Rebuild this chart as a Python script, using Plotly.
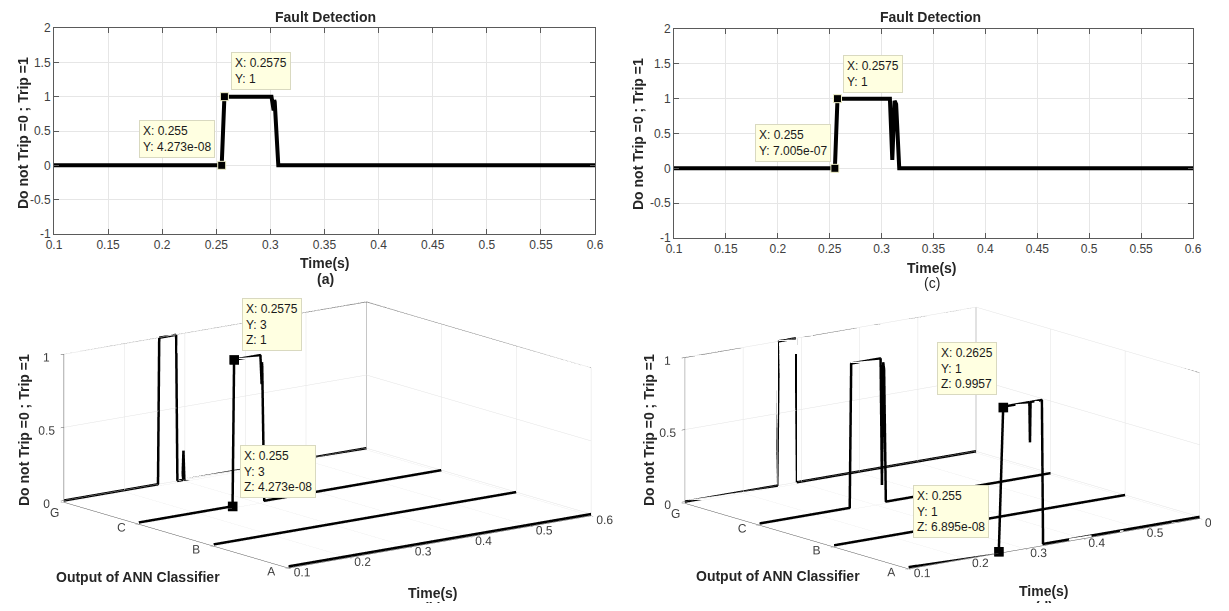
import plotly.graph_objects as go

# figure size; the page shows it at offset ~16px with a slight scale, mapped below
W, H = 1213, 595
FONT = "Liberation Sans, Arial, sans-serif"

# ---------------- data ----------------
# (a) 2-D trip signal (same as row C of (b))
time_a = [0.1, 0.255, 0.2575, 0.301, 0.302, 0.303, 0.3035, 0.304, 0.3073, 0.6]
trip_a = [0, 0, 1, 1, 0.9, 0.8, 0.95, 0.92, 0, 0]

# (c) 2-D trip signal (same as row C of (d))
time_c = [0.1, 0.255, 0.2575, 0.308, 0.3103, 0.3125, 0.314, 0.317, 0.6]
trip_c = [0, 0, 1, 1, 0.12, 0.97, 0.92, 0, 0]

# classifier outputs
class_labels = ["A", "B", "C", "G"]
class_index = [1, 2, 3, 4]

# (b) rows
b_G_time = [0.1, 0.2555, 0.2575, 0.2855, 0.2875, 0.296, 0.2975, 0.299, 0.6]
b_G_trip = [0, 0, 1, 1, 0, 0, 0.2, 0, 0]
b_C_time = time_a
b_C_trip = trip_a
b_B_time = [0.1, 0.6]
b_B_trip = [0, 0]
b_A_time = [0.1, 0.6]
b_A_trip = [0, 0]

# (d) rows
d_G_time = [0.1, 0.2585, 0.261, 0.2905, 0.2925, 0.6]
d_G_trip = [0, 0, 1, 1, 0, 0]
d_C_time = time_c
d_C_trip = trip_c
d_B_time = [0.1, 0.6]
d_B_trip = [0, 0]
d_A_time = [0.1, 0.255, 0.2625, 0.27, 0.3075, 0.3085, 0.3095, 0.329, 0.331, 0.6]
d_A_trip = [0, 0, 0.9957, 1, 1, 0.72, 1, 1, 0, 0]

# data tips
tips_a = [(0.2575, 1, "X: 0.2575<br>Y: 1"), (0.255, 4.273e-08, "X: 0.255<br>Y: 4.273e-08")]
tips_c = [(0.2575, 1, "X: 0.2575<br>Y: 1"), (0.255, 7.005e-07, "X: 0.255<br>Y: 7.005e-07")]
tips_b = [(0.2575, 3, 1, "X: 0.2575<br>Y: 3<br>Z: 1"),
          (0.255, 3, 4.273e-08, "X: 0.255<br>Y: 3<br>Z: 4.273e-08")]
tips_d = [(0.2625, 1, 0.9957, "X: 0.2625<br>Y: 1<br>Z: 0.9957"),
          (0.255, 1, 6.895e-08, "X: 0.255<br>Y: 1<br>Z: 6.895e-08")]

time_range = [0.1, 0.6]
trip_range = [-1, 2]
trip_range3d = [-0.012, 1]   # floor a hair below 0 so the traces are not hidden by floor grid lines
class_range = [1, 4]
time_ticks = [0.1, 0.15, 0.2, 0.25, 0.3, 0.35, 0.4, 0.45, 0.5, 0.55, 0.6]
time_ticks3d = [0.1, 0.2, 0.3, 0.4, 0.5, 0.6]
trip_ticks = [-1, -0.5, 0, 0.5, 1, 1.5, 2]
trip_ticks3d = [0, 0.5, 1]

# ---------------- figure ----------------
fig = go.Figure()
LW = 4
LW3 = 5
TIPBG = "#FFFFE1"
TIPBD = "#D9D9C0"
LBL = 14


def px_x(v):
    return (v - 16) / 1196


def px_y(v):
    return 1 - (v - 15) / 581


# 2-D traces
fig.add_trace(go.Scatter(x=time_a, y=trip_a, mode="lines", line=dict(color="black", width=LW),
                         xaxis="x", yaxis="y", showlegend=False, hoverinfo="skip"))
fig.add_trace(go.Scatter(x=[t[0] for t in tips_a], y=[t[1] for t in tips_a], mode="markers",
                         marker=dict(symbol="square", size=8, color="black", line=dict(color="#F0F0C8", width=1)),
                         xaxis="x", yaxis="y", showlegend=False, hoverinfo="skip"))
fig.add_trace(go.Scatter(x=time_c, y=trip_c, mode="lines", line=dict(color="black", width=LW),
                         xaxis="x2", yaxis="y2", showlegend=False, hoverinfo="skip"))
fig.add_trace(go.Scatter(x=[t[0] for t in tips_c], y=[t[1] for t in tips_c], mode="markers",
                         marker=dict(symbol="square", size=8, color="black", line=dict(color="#F0F0C8", width=1)),
                         xaxis="x2", yaxis="y2", showlegend=False, hoverinfo="skip"))

# 3-D box edges (back wall / right wall), built from the axis ranges
t0, t1 = time_range
c0, c1 = class_range
z0, z1 = trip_range3d
box_x = [t0, t1, t1, t1, None, t1, t1]
box_y = [c1, c1, c1, c0, None, c1, c0]
box_z = [z1, z1, z0, z0, None, z1, z1]

# 3-D traces
rows_b = [(b_A_time, b_A_trip, 1), (b_B_time, b_B_trip, 2), (b_C_time, b_C_trip, 3), (b_G_time, b_G_trip, 4)]
rows_d = [(d_G_time, d_G_trip, 4), (d_C_time, d_C_trip, 3), (d_B_time, d_B_trip, 2), (d_A_time, d_A_trip, 1)]
for scene, rows, tips in (("scene", rows_b, tips_b), ("scene2", rows_d, tips_d)):
    fig.add_trace(go.Scatter3d(x=box_x, y=box_y, z=box_z, mode="lines",
                               line=dict(color="#555555", width=1.5), scene=scene,
                               showlegend=False, hoverinfo="skip"))
    for tt, zz, yi in rows:
        fig.add_trace(go.Scatter3d(x=tt, y=[yi] * len(tt), z=zz, mode="lines",
                                   line=dict(color="black", width=LW3), scene=scene,
                                   showlegend=False, hoverinfo="skip"))
    fig.add_trace(go.Scatter3d(x=[t[0] for t in tips], y=[t[1] for t in tips], z=[t[2] for t in tips],
                               mode="markers", marker=dict(symbol="square", size=5, color="black"),
                               scene=scene, showlegend=False, hoverinfo="skip"))

axis_common = dict(showgrid=True, gridcolor="#E6E6E6", gridwidth=1, zeroline=False,
                   showline=True, linecolor="#5A5A5A", linewidth=1, mirror="ticks",
                   ticks="inside", ticklen=5, tickcolor="#5A5A5A",
                   tickfont=dict(family=FONT, size=12, color="#404040"))

fig.update_layout(
    width=W, height=H, margin=dict(l=0, r=0, t=0, b=0),
    paper_bgcolor="white", plot_bgcolor="white",
    font=dict(family=FONT, size=12, color="#262626"),
    hovermode=False,
    xaxis=dict(domain=[px_x(54), px_x(595)], range=time_range, tickvals=time_ticks,
               ticktext=[f"{v:g}" for v in time_ticks], anchor="y", **axis_common),
    yaxis=dict(domain=[px_y(234), px_y(28)], range=trip_range, tickvals=trip_ticks,
               ticktext=[f"{v:g}" for v in trip_ticks], anchor="x", **axis_common),
    xaxis2=dict(domain=[px_x(674), px_x(1193)], range=time_range, tickvals=time_ticks,
                ticktext=[f"{v:g}" for v in time_ticks], anchor="y2", **axis_common),
    yaxis2=dict(domain=[px_y(238), px_y(29)], range=trip_range, tickvals=trip_ticks,
                ticktext=[f"{v:g}" for v in trip_ticks], anchor="x2", **axis_common),
)

# view direction (azimuth ~232.5 deg, elevation ~13 deg)
EYE_DIR = (-0.593, -0.772, 0.225)
EYE_DIST = 2.0
RIGHT = (0.793, -0.609, 0.0)   # screen-right direction in scene units
UP = (0.137, 0.178, 0.974)     # screen-up direction in scene units
PPU = 160.0                    # screen px per scene unit

# the last class label ('G') shares its corner with the z '0' label, so it is
# placed as a scene annotation at its tick location, offset below-left
class_ticktext = [c if i < len(class_labels) - 1 else "" for i, c in enumerate(class_labels)]
corner_label = dict(x=time_range[0], y=class_index[-1], z=trip_ticks3d[0], text=class_labels[-1],
                    showarrow=False, xanchor="center", yanchor="middle", xshift=-9, yshift=-12,
                    font=dict(family=FONT, size=12, color="#404040"))


def scene_cfg(x0, x1, y0, y1, aspect, shift_right, shift_down):
    ax3 = dict(showbackground=False, gridcolor="#E3E3E3", gridwidth=1, zeroline=False,
               showline=True, linecolor="#555555", linewidth=1, ticks="outside", ticklen=4,
               tickcolor="#555555", showspikes=False, title=dict(text=""), tickangle=0,
               tickfont=dict(family=FONT, size=12, color="#404040"))
    kr = -shift_right / PPU
    ku = shift_down / PPU
    center = dict(x=kr * RIGHT[0] + ku * UP[0], y=kr * RIGHT[1] + ku * UP[1], z=ku * UP[2])
    eye = dict(x=EYE_DIR[0] * EYE_DIST + center["x"], y=EYE_DIR[1] * EYE_DIST + center["y"],
               z=EYE_DIR[2] * EYE_DIST + center["z"])
    return dict(
        domain=dict(x=[max(0, px_x(x0)), min(1, px_x(x1))], y=[max(0, px_y(y1)), min(1, px_y(y0))]),
        xaxis=dict(range=time_range, tickvals=time_ticks3d, ticktext=[f"{v:g}" for v in time_ticks3d], **ax3),
        yaxis=dict(range=class_range, tickvals=class_index, ticktext=class_ticktext, **ax3),
        zaxis=dict(range=trip_range3d, tickvals=trip_ticks3d, ticktext=[f"{v:g}" for v in trip_ticks3d], **ax3),
        aspectmode="manual", aspectratio=aspect,
        camera=dict(eye=eye, up=dict(x=0, y=0, z=1), center=center,
                    projection=dict(type="orthographic")),
        dragmode=False, bgcolor="rgba(0,0,0,0)",
    )


fig.update_layout(
    scene=scene_cfg(16, 639, 274, 596, dict(x=2.37, y=2.29, z=0.944), 0, 0),
    scene2=scene_cfg(570, 1212, 274, 596, dict(x=2.28, y=2.28, z=0.93), 51, 3),
)

ann = []


def text_ann(x, y, text, bold=True, angle=0, size=LBL):
    ann.append(dict(x=px_x(x), y=px_y(y), xref="paper", yref="paper", text=f"<b>{text}</b>" if bold else text,
                    showarrow=False, textangle=angle, xanchor="center", yanchor="middle",
                    font=dict(family=FONT, size=size, color="#262626")))


text_ann(325, 17, "Fault Detection")
text_ann(930, 17, "Fault Detection")
text_ann(325, 263, "Time(s)")
text_ann(325, 279, "(a)")
text_ann(932, 268, "Time(s)")
text_ann(932, 283, "(c)", bold=False)
text_ann(23, 133, "Do not Trip =0 ; Trip =1", angle=-90)
text_ann(638, 134, "Do not Trip =0 ; Trip =1", angle=-90)
text_ann(24, 430, "Do not Trip =0 ; Trip =1", angle=-90)
text_ann(649, 430, "Do not Trip =0 ; Trip =1", angle=-90)
text_ann(138, 577, "Output of ANN Classifier")
text_ann(778, 576, "Output of ANN Classifier")
text_ann(433, 593, "Time(s)")
text_ann(433, 608, "(b)")
text_ann(1044, 591, "Time(s)")
text_ann(1044, 607, "(d)")

tip_style = dict(showarrow=False, bgcolor=TIPBG, bordercolor=TIPBD, borderwidth=1, borderpad=3,
                 align="left", font=dict(family=FONT, size=12, color="#1a1a1a"))
# 2-D data tips
ann.append(dict(x=tips_a[0][0], y=tips_a[0][1], xref="x", yref="y", text=tips_a[0][2],
                xanchor="left", yanchor="bottom", xshift=7, yshift=7, **tip_style))
ann.append(dict(x=tips_a[1][0], y=tips_a[1][1], xref="x", yref="y", text=tips_a[1][2],
                xanchor="right", yanchor="bottom", xshift=-7, yshift=7, **tip_style))
ann.append(dict(x=tips_c[0][0], y=tips_c[0][1], xref="x2", yref="y2", text=tips_c[0][2],
                xanchor="left", yanchor="bottom", xshift=6, yshift=6, **tip_style))
ann.append(dict(x=tips_c[1][0], y=tips_c[1][1], xref="x2", yref="y2", text=tips_c[1][2],
                xanchor="right", yanchor="bottom", xshift=-4, yshift=6, **tip_style))
fig.update_layout(annotations=ann)

# 3-D data tips
fig.update_layout(scene_annotations=[
    corner_label,
    dict(x=tips_b[0][0], y=tips_b[0][1], z=tips_b[0][2], text=tips_b[0][3], xanchor="left", yanchor="bottom",
         xshift=8, yshift=9, **tip_style),
    dict(x=tips_b[1][0], y=tips_b[1][1], z=tips_b[1][2], text=tips_b[1][3], xanchor="left", yanchor="bottom",
         xshift=7, yshift=8, **tip_style),
])
fig.update_layout(scene2_annotations=[
    corner_label,
    dict(x=tips_d[0][0], y=tips_d[0][1], z=tips_d[0][2], text=tips_d[0][3], xanchor="right", yanchor="bottom",
         xshift=-6, yshift=12, **tip_style),
    dict(x=tips_d[1][0], y=tips_d[1][1], z=tips_d[1][2], text=tips_d[1][3], xanchor="right", yanchor="bottom",
         xshift=-10, yshift=14, **tip_style),
])

fig.write_html("out.html", config={"displayModeBar": False})
